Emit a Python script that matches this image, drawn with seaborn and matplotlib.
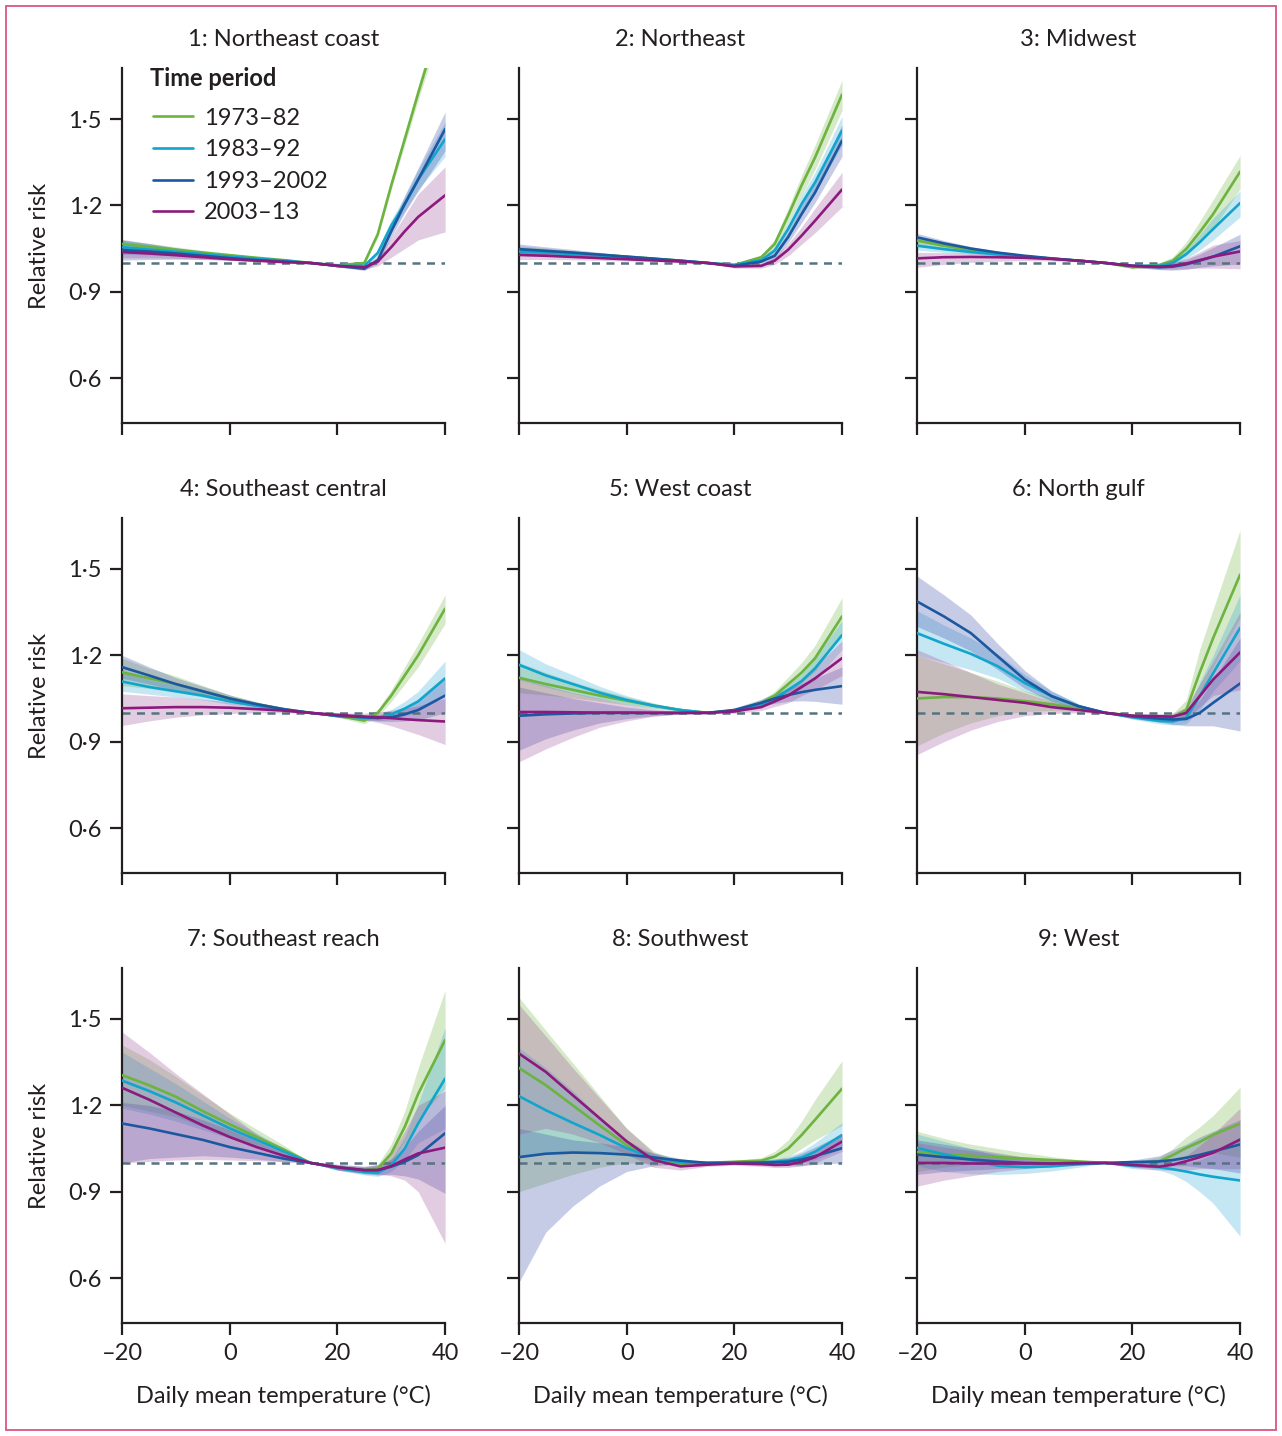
import pandas as pd
import matplotlib.pyplot as plt
import seaborn as sns
from matplotlib.patches import Rectangle

sns.set_theme(style="ticks")
plt.rcParams['font.family'] = ['Lato', 'DejaVu Sans']

# temperature grid (°C) at which the curves were read
temps = [-20, -15, -10, -5, 0, 5, 10, 15, 20, 25, 27.5, 30, 32.5, 35, 40]
periods = ['1973–82', '1983–92', '1993–2002', '2003–13']
regions = ['1: Northeast coast', '2: Northeast', '3: Midwest',
           '4: Southeast central', '5: West coast', '6: North gulf',
           '7: Southeast reach', '8: Southwest', '9: West']

line_colors = ['#6cb33f', '#12a5cc', '#1c58a0', '#8c1a7d']
band_colors = ['#6cb33f', '#2fa8d6', '#3848a8', '#9a4a98']

# relative risk (mid, lower, upper) per region; rows follow `periods`
ne_coast_mid = [
    [1.066, 1.056, 1.046, 1.036, 1.027, 1.018, 1.01, 1.0, 0.992, 1.0, 1.1, 1.27, 1.43, 1.59, 1.90],
    [1.055, 1.047, 1.039, 1.031, 1.022, 1.015, 1.008, 1.0, 0.99, 0.99, 1.035, 1.13, 1.205, 1.29, 1.43],
    [1.045, 1.04, 1.033, 1.025, 1.017, 1.01, 1.005, 1.0, 0.99, 0.98, 1.01, 1.11, 1.205, 1.29, 1.465],
    [1.038, 1.033, 1.027, 1.02, 1.013, 1.008, 1.003, 1.0, 0.99, 0.985, 1.005, 1.055, 1.11, 1.16, 1.235]]
ne_coast_lo = [
    [1.05, 1.044, 1.036, 1.028, 1.021, 1.014, 1.007, 1.0, 0.989, 0.995, 1.09, 1.255, 1.41, 1.565, 1.86],
    [1.03, 1.028, 1.025, 1.02, 1.015, 1.01, 1.005, 1.0, 0.987, 0.984, 1.025, 1.11, 1.18, 1.255, 1.37],
    [1.01, 1.012, 1.013, 1.012, 1.01, 1.006, 1.003, 1.0, 0.986, 0.974, 0.998, 1.09, 1.175, 1.25, 1.39],
    [1.018, 1.018, 1.016, 1.013, 1.009, 1.005, 1.002, 1.0, 0.986, 0.978, 0.99, 1.02, 1.05, 1.08, 1.108]]
ne_coast_hi = [
    [1.082, 1.068, 1.056, 1.044, 1.033, 1.022, 1.013, 1.0, 0.995, 1.005, 1.11, 1.285, 1.45, 1.615, 1.94],
    [1.08, 1.066, 1.053, 1.042, 1.029, 1.02, 1.011, 1.0, 0.993, 0.996, 1.045, 1.15, 1.23, 1.325, 1.49],
    [1.08, 1.068, 1.053, 1.038, 1.024, 1.014, 1.007, 1.0, 0.994, 0.986, 1.022, 1.13, 1.235, 1.33, 1.525],
    [1.058, 1.048, 1.038, 1.027, 1.017, 1.011, 1.004, 1.0, 0.994, 0.992, 1.02, 1.09, 1.165, 1.24, 1.334]]

northeast_mid = [
    [1.045, 1.04, 1.034, 1.028, 1.022, 1.015, 1.008, 1.0, 0.993, 1.02, 1.066, 1.165, 1.27, 1.367, 1.585],
    [1.04, 1.036, 1.031, 1.026, 1.02, 1.014, 1.007, 1.0, 0.993, 1.01, 1.043, 1.118, 1.205, 1.28, 1.46],
    [1.048, 1.042, 1.036, 1.029, 1.022, 1.015, 1.008, 1.0, 0.99, 1.005, 1.025, 1.09, 1.17, 1.245, 1.425],
    [1.028, 1.025, 1.021, 1.017, 1.013, 1.009, 1.005, 1.0, 0.988, 0.99, 1.008, 1.046, 1.095, 1.147, 1.255]]
northeast_lo = [
    [1.03, 1.028, 1.025, 1.021, 1.017, 1.012, 1.006, 1.0, 0.99, 1.012, 1.05, 1.14, 1.235, 1.325, 1.53],
    [1.025, 1.023, 1.021, 1.018, 1.015, 1.011, 1.005, 1.0, 0.99, 1.003, 1.03, 1.095, 1.175, 1.245, 1.41],
    [1.03, 1.028, 1.025, 1.021, 1.017, 1.012, 1.006, 1.0, 0.986, 0.996, 1.012, 1.07, 1.14, 1.21, 1.37],
    [1.012, 1.012, 1.011, 1.009, 1.007, 1.005, 1.003, 1.0, 0.982, 0.982, 0.995, 1.025, 1.065, 1.105, 1.195]]
northeast_hi = [
    [1.06, 1.052, 1.043, 1.035, 1.027, 1.018, 1.01, 1.0, 0.996, 1.028, 1.082, 1.19, 1.305, 1.41, 1.635],
    [1.055, 1.049, 1.041, 1.034, 1.025, 1.017, 1.009, 1.0, 0.996, 1.017, 1.056, 1.14, 1.235, 1.315, 1.51],
    [1.066, 1.056, 1.047, 1.037, 1.027, 1.018, 1.01, 1.0, 0.994, 1.014, 1.038, 1.11, 1.2, 1.28, 1.48],
    [1.044, 1.038, 1.031, 1.025, 1.019, 1.013, 1.007, 1.0, 0.994, 0.998, 1.021, 1.067, 1.125, 1.19, 1.315]]

midwest_mid = [
    [1.078, 1.06, 1.045, 1.033, 1.023, 1.015, 1.008, 1.0, 0.985, 0.993, 1.008, 1.049, 1.107, 1.17, 1.317],
    [1.06, 1.048, 1.038, 1.03, 1.022, 1.015, 1.008, 1.0, 0.99, 0.99, 1.0, 1.031, 1.072, 1.118, 1.208],
    [1.089, 1.068, 1.05, 1.036, 1.025, 1.016, 1.008, 1.0, 0.99, 0.985, 0.987, 0.995, 1.008, 1.022, 1.058],
    [1.016, 1.02, 1.021, 1.02, 1.018, 1.014, 1.008, 1.0, 0.99, 0.987, 0.99, 0.998, 1.01, 1.022, 1.04]]
midwest_lo = [
    [1.062, 1.048, 1.037, 1.027, 1.019, 1.012, 1.006, 1.0, 0.98, 0.985, 0.995, 1.025, 1.07, 1.12, 1.257],
    [1.045, 1.037, 1.031, 1.025, 1.019, 1.013, 1.007, 1.0, 0.985, 0.983, 0.99, 1.015, 1.045, 1.08, 1.16],
    [1.075, 1.058, 1.043, 1.031, 1.022, 1.014, 1.007, 1.0, 0.985, 0.977, 0.975, 0.978, 0.985, 0.99, 0.996],
    [0.985, 0.995, 1.002, 1.006, 1.008, 1.007, 1.004, 1.0, 0.985, 0.978, 0.978, 0.98, 0.982, 0.982, 0.98]]
midwest_hi = [
    [1.094, 1.072, 1.053, 1.039, 1.027, 1.018, 1.01, 1.0, 0.99, 1.0, 1.021, 1.073, 1.144, 1.22, 1.373],
    [1.075, 1.059, 1.045, 1.035, 1.025, 1.017, 1.009, 1.0, 0.995, 0.997, 1.01, 1.047, 1.099, 1.156, 1.25],
    [1.103, 1.078, 1.057, 1.041, 1.028, 1.018, 1.009, 1.0, 0.995, 0.993, 0.999, 1.012, 1.031, 1.054, 1.10],
    [1.037, 1.036, 1.035, 1.032, 1.028, 1.021, 1.012, 1.0, 0.995, 0.996, 1.002, 1.016, 1.038, 1.062, 1.078]]

se_central_mid = [
    [1.141, 1.12, 1.1, 1.075, 1.05, 1.03, 1.013, 1.0, 0.99, 0.973, 1.0, 1.06, 1.13, 1.2, 1.362],
    [1.109, 1.09, 1.075, 1.06, 1.04, 1.025, 1.01, 1.0, 0.99, 0.983, 0.983, 0.995, 1.015, 1.04, 1.12],
    [1.159, 1.13, 1.1, 1.075, 1.05, 1.03, 1.013, 1.0, 0.99, 0.985, 0.982, 0.985, 0.995, 1.01, 1.06],
    [1.016, 1.018, 1.02, 1.02, 1.018, 1.013, 1.008, 1.0, 0.993, 0.987, 0.985, 0.982, 0.978, 0.975, 0.97]]
se_central_lo = [
    [1.095, 1.085, 1.072, 1.055, 1.037, 1.022, 1.009, 1.0, 0.985, 0.962, 0.988, 1.04, 1.1, 1.16, 1.31],
    [1.075, 1.065, 1.055, 1.045, 1.03, 1.018, 1.007, 1.0, 0.985, 0.975, 0.972, 0.978, 0.99, 1.005, 1.06],
    [1.12, 1.1, 1.078, 1.058, 1.038, 1.022, 1.009, 1.0, 0.985, 0.978, 0.972, 0.97, 0.972, 0.975, 1.0],
    [0.956, 0.972, 0.985, 0.993, 0.998, 1.0, 1.0, 1.0, 0.985, 0.975, 0.967, 0.955, 0.94, 0.925, 0.89]]
se_central_hi = [
    [1.19, 1.155, 1.128, 1.095, 1.063, 1.038, 1.017, 1.0, 0.995, 0.984, 1.012, 1.08, 1.16, 1.24, 1.41],
    [1.14, 1.115, 1.095, 1.075, 1.05, 1.032, 1.013, 1.0, 0.995, 0.991, 0.994, 1.012, 1.04, 1.075, 1.18],
    [1.2, 1.16, 1.122, 1.092, 1.062, 1.038, 1.017, 1.0, 0.995, 0.992, 0.992, 1.0, 1.018, 1.045, 1.12],
    [1.066, 1.06, 1.055, 1.047, 1.038, 1.026, 1.016, 1.0, 1.0, 0.999, 1.003, 1.009, 1.016, 1.025, 1.05]]

west_coast_mid = [
    [1.122, 1.1, 1.08, 1.06, 1.042, 1.025, 1.01, 1.0, 1.008, 1.035, 1.06, 1.1, 1.14, 1.19, 1.335],
    [1.167, 1.13, 1.1, 1.07, 1.045, 1.025, 1.01, 1.0, 1.008, 1.03, 1.05, 1.08, 1.11, 1.155, 1.27],
    [0.99, 0.995, 0.998, 1.0, 1.0, 1.0, 1.0, 1.0, 1.01, 1.035, 1.05, 1.062, 1.072, 1.08, 1.093],
    [1.003, 1.003, 1.002, 1.001, 1.001, 1.0, 1.0, 1.0, 1.005, 1.02, 1.04, 1.06, 1.09, 1.12, 1.19]]
west_coast_lo = [
    [1.07, 1.062, 1.052, 1.04, 1.028, 1.016, 1.006, 1.0, 1.003, 1.025, 1.045, 1.075, 1.105, 1.145, 1.275],
    [1.115, 1.09, 1.068, 1.048, 1.03, 1.016, 1.006, 1.0, 1.003, 1.02, 1.035, 1.06, 1.085, 1.115, 1.22],
    [0.87, 0.91, 0.94, 0.965, 0.98, 0.99, 0.996, 1.0, 1.003, 1.022, 1.033, 1.04, 1.042, 1.04, 1.03],
    [0.83, 0.875, 0.915, 0.95, 0.972, 0.988, 0.996, 1.0, 0.998, 1.008, 1.022, 1.035, 1.06, 1.08, 1.13]]
west_coast_hi = [
    [1.175, 1.14, 1.108, 1.08, 1.056, 1.034, 1.014, 1.0, 1.013, 1.045, 1.075, 1.125, 1.175, 1.235, 1.40],
    [1.22, 1.17, 1.132, 1.092, 1.06, 1.034, 1.014, 1.0, 1.013, 1.04, 1.065, 1.1, 1.135, 1.195, 1.32],
    [1.09, 1.07, 1.05, 1.035, 1.02, 1.01, 1.004, 1.0, 1.017, 1.048, 1.067, 1.084, 1.102, 1.12, 1.16],
    [1.12, 1.095, 1.07, 1.05, 1.03, 1.015, 1.005, 1.0, 1.012, 1.032, 1.058, 1.085, 1.12, 1.16, 1.25]]

north_gulf_mid = [
    [1.05, 1.055, 1.055, 1.05, 1.041, 1.03, 1.015, 1.0, 0.99, 0.983, 0.985, 1.01, 1.14, 1.26, 1.48],
    [1.277, 1.24, 1.205, 1.162, 1.104, 1.058, 1.023, 1.0, 0.985, 0.972, 0.97, 0.983, 1.058, 1.138, 1.295],
    [1.387, 1.335, 1.277, 1.196, 1.116, 1.058, 1.023, 1.0, 0.988, 0.98, 0.977, 0.979, 1.0, 1.035, 1.102],
    [1.073, 1.065, 1.055, 1.045, 1.035, 1.02, 1.01, 1.0, 0.99, 0.988, 0.987, 1.0, 1.058, 1.116, 1.21]]
north_gulf_lo = [
    [0.885, 0.93, 0.965, 0.99, 1.005, 1.008, 1.005, 1.0, 0.985, 0.975, 0.972, 0.975, 1.06, 1.16, 1.33],
    [1.2, 1.175, 1.15, 1.12, 1.075, 1.04, 1.015, 1.0, 0.978, 0.962, 0.958, 0.962, 1.01, 1.075, 1.18],
    [1.3, 1.26, 1.215, 1.15, 1.085, 1.04, 1.015, 1.0, 0.98, 0.968, 0.96, 0.955, 0.955, 0.955, 0.937],
    [0.855, 0.9, 0.94, 0.97, 0.99, 0.998, 1.0, 1.0, 0.982, 0.978, 0.975, 0.98, 1.02, 1.06, 1.08]]
north_gulf_hi = [
    [1.2, 1.17, 1.14, 1.11, 1.077, 1.052, 1.025, 1.0, 0.995, 0.991, 0.998, 1.045, 1.22, 1.36, 1.635],
    [1.355, 1.305, 1.26, 1.205, 1.133, 1.076, 1.031, 1.0, 0.992, 0.982, 0.982, 1.004, 1.106, 1.2, 1.41],
    [1.475, 1.41, 1.34, 1.24, 1.147, 1.076, 1.031, 1.0, 0.996, 0.992, 0.994, 1.003, 1.045, 1.115, 1.26],
    [1.22, 1.18, 1.14, 1.1, 1.07, 1.04, 1.02, 1.0, 0.998, 0.998, 0.999, 1.02, 1.1, 1.18, 1.35]]

se_reach_mid = [
    [1.305, 1.27, 1.23, 1.18, 1.134, 1.09, 1.047, 1.0, 0.985, 0.975, 0.98, 1.033, 1.125, 1.24, 1.427],
    [1.286, 1.25, 1.21, 1.165, 1.12, 1.08, 1.04, 1.0, 0.982, 0.968, 0.965, 0.992, 1.05, 1.137, 1.293],
    [1.137, 1.12, 1.1, 1.08, 1.055, 1.035, 1.015, 1.0, 0.985, 0.975, 0.975, 0.987, 1.004, 1.027, 1.103],
    [1.261, 1.22, 1.175, 1.13, 1.09, 1.055, 1.025, 1.0, 0.985, 0.975, 0.975, 0.989, 1.012, 1.033, 1.053]]
se_reach_lo = [
    [1.2, 1.18, 1.16, 1.125, 1.095, 1.063, 1.032, 1.0, 0.978, 0.965, 0.965, 1.0, 1.07, 1.15, 1.26],
    [1.19, 1.17, 1.145, 1.115, 1.085, 1.057, 1.028, 1.0, 0.975, 0.958, 0.953, 0.97, 1.01, 1.07, 1.12],
    [1.0, 1.015, 1.02, 1.025, 1.02, 1.013, 1.005, 1.0, 0.975, 0.962, 0.958, 0.96, 0.955, 0.944, 0.894],
    [1.0, 1.005, 1.01, 1.012, 1.01, 1.008, 1.004, 1.0, 0.975, 0.965, 0.962, 0.955, 0.94, 0.9, 0.72]]
se_reach_hi = [
    [1.41, 1.36, 1.3, 1.235, 1.173, 1.117, 1.062, 1.0, 0.992, 0.985, 0.995, 1.066, 1.18, 1.33, 1.6],
    [1.385, 1.33, 1.275, 1.215, 1.155, 1.103, 1.052, 1.0, 0.989, 0.978, 0.977, 1.014, 1.09, 1.205, 1.47],
    [1.21, 1.2, 1.18, 1.15, 1.115, 1.075, 1.035, 1.0, 0.995, 0.988, 0.992, 1.014, 1.053, 1.11, 1.2],
    [1.455, 1.385, 1.31, 1.24, 1.17, 1.1, 1.045, 1.0, 0.995, 0.988, 0.995, 1.033, 1.11, 1.2, 1.25]]

southwest_mid = [
    [1.33, 1.27, 1.2, 1.13, 1.062, 1.016, 0.997, 1.0, 1.004, 1.008, 1.022, 1.05, 1.097, 1.15, 1.258],
    [1.232, 1.183, 1.139, 1.097, 1.051, 1.018, 1.002, 1.0, 1.001, 1.002, 1.004, 1.009, 1.019, 1.039, 1.097],
    [1.02, 1.032, 1.036, 1.034, 1.029, 1.019, 1.008, 1.0, 1.0, 1.001, 1.002, 1.004, 1.012, 1.024, 1.051],
    [1.38, 1.316, 1.235, 1.155, 1.075, 1.01, 0.988, 0.994, 0.998, 0.996, 0.993, 0.994, 1.004, 1.02, 1.074]]
southwest_lo = [
    [0.9, 0.93, 0.96, 0.985, 1.0, 0.998, 0.99, 1.0, 0.999, 0.998, 1.005, 1.02, 1.05, 1.08, 1.13],
    [1.02, 1.03, 1.035, 1.04, 1.025, 1.008, 0.997, 1.0, 0.997, 0.996, 0.996, 0.996, 1.0, 1.01, 1.05],
    [0.585, 0.76, 0.85, 0.92, 0.97, 0.99, 0.997, 1.0, 0.995, 0.992, 0.99, 0.99, 0.99, 0.995, 1.0],
    [1.1, 1.12, 1.1, 1.07, 1.03, 0.985, 0.975, 0.988, 0.992, 0.988, 0.984, 0.984, 0.99, 1.0, 1.04]]
southwest_hi = [
    [1.575, 1.46, 1.347, 1.233, 1.12, 1.04, 1.005, 1.0, 1.009, 1.018, 1.04, 1.08, 1.145, 1.22, 1.355],
    [1.4, 1.33, 1.25, 1.16, 1.08, 1.03, 1.008, 1.0, 1.005, 1.008, 1.012, 1.022, 1.04, 1.07, 1.14],
    [1.12, 1.1, 1.08, 1.07, 1.055, 1.035, 1.015, 1.0, 1.005, 1.01, 1.014, 1.018, 1.034, 1.055, 1.1],
    [1.55, 1.44, 1.33, 1.225, 1.12, 1.035, 1.0, 1.0, 1.004, 1.004, 1.002, 1.004, 1.018, 1.04, 1.1]]

west_mid = [
    [1.038, 1.03, 1.025, 1.02, 1.015, 1.01, 1.005, 1.0, 0.998, 1.006, 1.027, 1.052, 1.073, 1.098, 1.136],
    [1.052, 1.03, 1.01, 0.99, 0.985, 0.988, 0.995, 1.0, 0.99, 0.985, 0.978, 0.97, 0.96, 0.952, 0.939],
    [1.029, 1.02, 1.012, 1.005, 1.0, 0.998, 0.998, 1.0, 1.003, 1.005, 1.01, 1.018, 1.028, 1.04, 1.064],
    [1.0, 1.0, 0.998, 0.998, 0.998, 0.998, 1.0, 1.0, 0.993, 0.987, 0.994, 1.006, 1.02, 1.035, 1.081]]
west_lo = [
    [0.97, 0.985, 0.995, 0.998, 1.0, 1.0, 1.0, 1.0, 0.993, 0.995, 1.005, 1.015, 1.025, 1.035, 1.02],
    [0.99, 0.97, 0.962, 0.96, 0.963, 0.972, 0.985, 1.0, 0.98, 0.975, 0.96, 0.935, 0.9, 0.86, 0.745],
    [0.96, 0.97, 0.975, 0.98, 0.985, 0.99, 0.995, 1.0, 0.995, 0.99, 0.99, 0.99, 0.985, 0.98, 0.965],
    [0.919, 0.94, 0.955, 0.97, 0.98, 0.988, 0.995, 1.0, 0.985, 0.975, 0.975, 0.975, 0.98, 0.98, 0.98]]
west_hi = [
    [1.11, 1.085, 1.065, 1.05, 1.035, 1.022, 1.011, 1.0, 1.003, 1.02, 1.05, 1.09, 1.125, 1.165, 1.263],
    [1.1, 1.075, 1.05, 1.025, 1.01, 1.005, 1.004, 1.0, 1.0, 0.997, 0.996, 1.0, 1.01, 1.03, 1.09],
    [1.08, 1.065, 1.05, 1.035, 1.02, 1.008, 1.002, 1.0, 1.01, 1.025, 1.045, 1.065, 1.09, 1.11, 1.15],
    [1.07, 1.055, 1.043, 1.03, 1.018, 1.008, 1.005, 1.0, 1.002, 1.002, 1.01, 1.025, 1.06, 1.1, 1.19]]

panels = [
    (ne_coast_mid, ne_coast_lo, ne_coast_hi),
    (northeast_mid, northeast_lo, northeast_hi),
    (midwest_mid, midwest_lo, midwest_hi),
    (se_central_mid, se_central_lo, se_central_hi),
    (west_coast_mid, west_coast_lo, west_coast_hi),
    (north_gulf_mid, north_gulf_lo, north_gulf_hi),
    (se_reach_mid, se_reach_lo, se_reach_hi),
    (southwest_mid, southwest_lo, southwest_hi),
    (west_mid, west_lo, west_hi),
]

y_ticks = [0.6, 0.9, 1.2, 1.5]
y_ticklabels = ['0·6', '0·9', '1·2', '1·5']
x_ticks = [-20, 0, 20, 40]
x_ticklabels = ['–20', '0', '20', '40']

FS = 17
INK = '#231f20'

fig = plt.figure(figsize=(12.82, 14.36), dpi=100)
lefts = [0.0952, 0.4048, 0.7153]
bottoms = [0.7054, 0.3921, 0.0787]

for i, (mid, lo, hi) in enumerate(panels):
    r, c = divmod(i, 3)
    ax = fig.add_axes([lefts[c], bottoms[r], 0.252, 0.2472])

    for k in range(4):
        ax.fill_between(temps, lo[k], hi[k], color=band_colors[k],
                        alpha=0.28, linewidth=0)

    ax.axhline(1.0, color='#557380', lw=1.8, ls=(0, (3.2, 2.6)), zorder=1.5)

    long = pd.DataFrame({
        'temp': temps * 4,
        'rr': [v for row in mid for v in row],
        'period': [p for p in periods for _ in temps],
    })
    sns.lineplot(data=long, x='temp', y='rr', hue='period', hue_order=periods,
                 palette=line_colors, errorbar=None, linewidth=1.9,
                 legend=(i == 0), ax=ax, zorder=3)

    ax.set_xlim(-20, 40)
    ax.set_ylim(0.444, 1.677)
    ax.set_xticks(x_ticks)
    ax.set_yticks(y_ticks)
    sns.despine(ax=ax)
    for side in ['left', 'bottom']:
        ax.spines[side].set_linewidth(1.6)
        ax.spines[side].set_color(INK)
    ax.tick_params(direction='out', length=8.5, width=1.6, color=INK,
                   labelcolor=INK, labelsize=FS, pad=6)

    if c == 0:
        ax.set_yticklabels(y_ticklabels)
        ax.set_ylabel('Relative risk', fontsize=FS, color=INK, labelpad=13)
    else:
        ax.set_yticklabels([])
        ax.set_ylabel('')
    if r == 2:
        ax.set_xticklabels(x_ticklabels)
        ax.set_xlabel('Daily mean temperature (°C)', fontsize=FS, color=INK,
                      labelpad=15)
    else:
        ax.set_xticklabels([])
        ax.set_xlabel('')

    ax.set_title(regions[i], fontsize=FS, color=INK, pad=16)

    if i == 0:
        handles, labels = ax.get_legend_handles_labels()
        leg = ax.legend(handles, labels, loc='upper left',
                        bbox_to_anchor=(0.06, 0.922), frameon=False,
                        borderpad=0, fontsize=FS, handlelength=1.7,
                        handletextpad=0.45, labelspacing=0.45)
        for t in leg.get_texts():
            t.set_color(INK)
        for h in leg.legend_handles:
            h.set_linewidth(1.9)
        ax.text(0.087, 0.972, 'Time period', transform=ax.transAxes,
                fontsize=FS, fontweight='bold', color=INK,
                ha='left', va='center')

fig.patches.append(Rectangle((0.005, 0.004), 0.99, 0.992,
                             transform=fig.transFigure, fill=False,
                             edgecolor='#d9577f', linewidth=1.3))

plt.savefig('out.png', dpi=100)
